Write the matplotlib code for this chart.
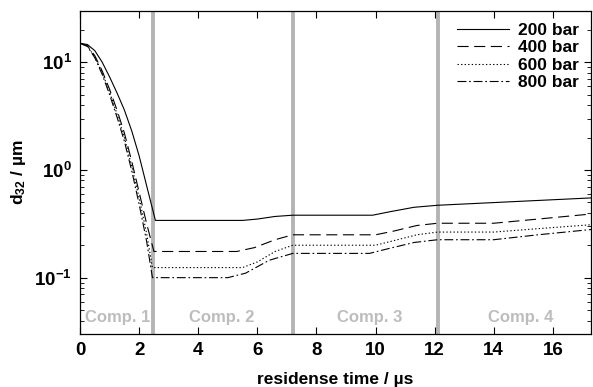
import numpy as np
import matplotlib
matplotlib.use("Agg")
import matplotlib.pyplot as plt
from matplotlib.ticker import LogLocator, NullFormatter

# =====================================
# Daten (aus Abbildung abgelesen)
# =====================================

t_200 = [0, 0.25, 0.5, 0.75, 1.0, 1.25, 1.5, 1.75, 2.0, 2.25, 2.55,
         5.5, 6.0, 6.6, 7.2, 9.9, 10.5, 11.3, 12.1, 17.3]
d_200 = [15, 14.6, 12.8, 10.0, 7.3, 5.2, 3.6, 2.3, 1.35, 0.72, 0.34,
         0.34, 0.35, 0.37, 0.38, 0.38, 0.41, 0.45, 0.47, 0.55]

t_400 = [0, 0.25, 0.5, 0.75, 1.0, 1.25, 1.5, 1.75, 2.0, 2.25, 2.5,
         5.3, 5.9, 6.6, 7.2, 10.0, 10.6, 11.4, 12.1, 14.0, 15.5, 17.3]
d_400 = [15, 14.2, 11.5, 8.3, 5.6, 3.6, 2.2, 1.2, 0.62, 0.32, 0.175,
         0.175, 0.19, 0.225, 0.25, 0.25, 0.27, 0.305, 0.32, 0.32, 0.35, 0.39]

t_600 = [0, 0.25, 0.5, 0.75, 1.0, 1.25, 1.5, 1.75, 2.0, 2.25, 2.45,
         5.5, 6.0, 6.6, 7.2, 10.0, 10.6, 11.4, 12.1, 14.0, 15.5, 17.3]
d_600 = [15, 14.1, 11.2, 8.0, 5.3, 3.3, 2.0, 1.08, 0.55, 0.26, 0.124,
         0.124, 0.14, 0.175, 0.2, 0.2, 0.22, 0.25, 0.265, 0.265, 0.285, 0.31]

t_800 = [0, 0.25, 0.5, 0.75, 1.0, 1.25, 1.5, 1.75, 2.0, 2.25, 2.45,
         5.0, 5.6, 6.4, 7.2, 9.8, 10.4, 11.3, 12.1, 14.0, 15.5, 17.3]
d_800 = [15, 14.0, 11.0, 7.7, 5.0, 3.1, 1.85, 0.98, 0.48, 0.22, 0.1,
         0.1, 0.11, 0.145, 0.168, 0.168, 0.185, 0.212, 0.225, 0.225, 0.25, 0.28]

labels = ["200 bar", "400 bar", "600 bar", "800 bar"]
comp_bounds = [2.47, 7.2, 12.1]
comp_names = ["Comp. 1", "Comp. 2", "Comp. 3", "Comp. 4"]
comp_x = [1.28, 4.8, 9.8, 14.9]

# =====================================
# Stil
# =====================================

plt.rcParams["font.family"] = ["Liberation Sans", "DejaVu Sans"]
plt.rcParams["font.weight"] = "bold"
plt.rcParams["mathtext.fontset"] = "custom"
plt.rcParams["mathtext.rm"] = "Liberation Sans:bold"
plt.rcParams["mathtext.bf"] = "Liberation Sans:bold"
plt.rcParams["mathtext.default"] = "bf"

fig = plt.figure(figsize=(5.93, 3.87), dpi=100)
ax = fig.add_axes([0.135, 0.137, 0.862, 0.835])

styles = [
    dict(linestyle="-"),
    dict(linestyle=(0, (10, 5))),
    dict(linestyle=(0, (1.2, 2))),
    dict(linestyle=(0, (8, 2.5, 1.5, 2.5))),
]
series = [(t_200, d_200), (t_400, d_400), (t_600, d_600), (t_800, d_800)]

for (t, d), lab, st in zip(series, labels, styles):
    ax.plot(t, d, color="black", lw=0.8, label=lab, **st)

for xb in comp_bounds:
    ax.axvline(xb, color="#b4b4b4", lw=2.8, zorder=0)

for xc, name in zip(comp_x, comp_names):
    ax.text(xc, 0.043, name, color="#bdbdbd", fontsize=12, fontweight="bold",
            ha="center", va="center")

ax.set_yscale("log")
ax.set_xlim(0, 17.3)
ax.set_ylim(0.03, 30)
ax.set_xticks(np.arange(0, 17, 2))
ax.yaxis.set_major_locator(LogLocator(base=10, numticks=10))
ax.yaxis.set_minor_locator(LogLocator(base=10, subs=np.arange(2, 10), numticks=20))
ax.yaxis.set_minor_formatter(NullFormatter())

ax.tick_params(which="both", direction="in", top=True, right=True, labelsize=13.5)
ax.tick_params(which="major", length=5, width=0.8, pad=6)
ax.tick_params(which="minor", length=3, width=0.6)
for sp in ax.spines.values():
    sp.set_linewidth(0.9)

ax.set_xlabel("residense time / µs", fontsize=12.5, fontweight="bold", labelpad=9)
ax.set_ylabel("d$_{32}$ / µm", fontsize=12.5, fontweight="bold", labelpad=4)

ax.legend(loc="upper right", frameon=False, handlelength=3.0, fontsize=12.5,
          borderaxespad=0.3, labelspacing=0.12, handletextpad=0.5)

fig.savefig("out.png", dpi=100)
